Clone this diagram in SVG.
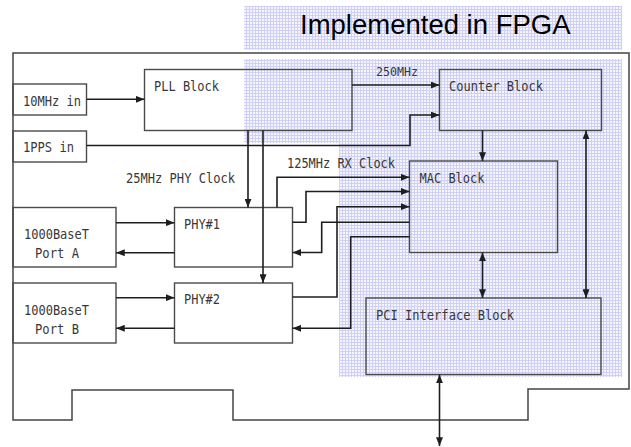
<svg xmlns="http://www.w3.org/2000/svg" width="631" height="447" viewBox="0 0 631 447">
<style>
.box{fill:none;stroke:#4a4a4a;stroke-width:1.4}
.board{fill:none;stroke:#444;stroke-width:1.5}
.ln{fill:none;stroke:#1e1e1e;stroke-width:1.6}
.t{font-family:"DejaVu Sans Mono","Liberation Mono",monospace;font-size:13.5px;fill:#383838}
.s{font-family:"DejaVu Sans Mono","Liberation Mono",monospace;font-size:11.5px;fill:#383838}
.title{font-family:"Liberation Sans",Arial,sans-serif;font-size:27.5px;fill:#000}
</style>
<defs>
<pattern id="grid" patternUnits="userSpaceOnUse" width="3" height="3">
<rect width="3" height="3" fill="#f5f5fe"/>
<rect width="1" height="3" fill="#d0d0f6"/>
<rect width="3" height="1" fill="#d0d0f6"/>
</pattern>
<marker id="ah" viewBox="0 0 10 8" refX="10" refY="4" markerWidth="9" markerHeight="7" markerUnits="userSpaceOnUse" orient="auto-start-reverse">
<path d="M0,0 L10,4 L0,8 z" fill="#1e1e1e"/>
</marker>
</defs>
<rect width="631" height="447" fill="#fff"/>
<g id="fpga-area">
<rect x="244" y="6" width="378" height="44" fill="url(#grid)"/>
<polygon points="244,59 622,59 622,377 339,377 339,143 244,143" fill="url(#grid)"/>
<text class="title" x="300" y="34">Implemented in FPGA</text>
</g>
<g id="board">
<path class="board" d="M13,53 H629 V389 H528 V420 H233 V390 H72 V420 H13 Z"/>
</g>
<g id="in10">
<rect class="box" x="13" y="84" width="73.5" height="31" fill="#fff"/>
<text class="t" x="23" y="106" textLength="58" lengthAdjust="spacingAndGlyphs">10MHz in</text>
</g>
<g id="in1pps">
<rect class="box" x="13" y="131" width="73.5" height="31" fill="#fff"/>
<text class="t" x="23" y="151.5" textLength="51" lengthAdjust="spacingAndGlyphs">1PPS in</text>
</g>
<g id="pll">
<rect class="box" x="144.5" y="69.5" width="207.5" height="61"/>
<text class="t" x="154" y="91" textLength="65" lengthAdjust="spacingAndGlyphs">PLL Block</text>
</g>
<g id="counter">
<rect class="box" x="439.5" y="69.5" width="162" height="61"/>
<text class="t" x="449" y="91" textLength="94" lengthAdjust="spacingAndGlyphs">Counter Block</text>
</g>
<g id="mac">
<rect class="box" x="409.5" y="161" width="148" height="91.5"/>
<text class="t" x="419.5" y="183" textLength="65" lengthAdjust="spacingAndGlyphs">MAC Block</text>
</g>
<g id="pci">
<rect class="box" x="366" y="298" width="235" height="76.5"/>
<text class="t" x="376" y="320" textLength="138" lengthAdjust="spacingAndGlyphs">PCI Interface Block</text>
</g>
<g id="porta">
<rect class="box" x="13" y="207.5" width="103" height="59.5" fill="#fff"/>
<text class="t" x="24" y="239" textLength="65" lengthAdjust="spacingAndGlyphs">1000BaseT</text>
<text class="t" x="35" y="257.5" textLength="44" lengthAdjust="spacingAndGlyphs">Port A</text>
</g>
<g id="portb">
<rect class="box" x="13" y="283" width="103" height="60" fill="#fff"/>
<text class="t" x="24" y="315" textLength="65" lengthAdjust="spacingAndGlyphs">1000BaseT</text>
<text class="t" x="35" y="334" textLength="44" lengthAdjust="spacingAndGlyphs">Port B</text>
</g>
<g id="phy1">
<rect class="box" x="174.5" y="207.5" width="118" height="59.5"/>
<text class="t" x="184" y="229" textLength="36" lengthAdjust="spacingAndGlyphs">PHY#1</text>
</g>
<g id="phy2">
<rect class="box" x="174.5" y="283" width="118" height="60"/>
<text class="t" x="184" y="304" textLength="36" lengthAdjust="spacingAndGlyphs">PHY#2</text>
</g>
<g id="connectors">
<path class="ln" d="M86.5,99.3 H144.5" marker-end="url(#ah)"/>
<path class="ln" d="M352,85 H439.5" marker-end="url(#ah)"/>
<path class="ln" d="M86.5,145.5 H410 V115 H439.5" marker-end="url(#ah)"/>
<path class="ln" d="M248,130.5 V207.5" marker-end="url(#ah)"/>
<path class="ln" d="M263,130.5 V283" marker-end="url(#ah)"/>
<path class="ln" d="M482.5,130.5 V161" marker-end="url(#ah)"/>
<path class="ln" d="M586,130.5 V298" marker-start="url(#ah)" marker-end="url(#ah)"/>
<path class="ln" d="M482.5,252.5 V298" marker-start="url(#ah)" marker-end="url(#ah)"/>
<path class="ln" d="M439.5,374.5 V446" marker-start="url(#ah)" marker-end="url(#ah)"/>
<path class="ln" d="M116,222.7 H174.5" marker-end="url(#ah)"/>
<path class="ln" d="M174.5,252.7 H116" marker-end="url(#ah)"/>
<path class="ln" d="M116,297.7 H174.5" marker-end="url(#ah)"/>
<path class="ln" d="M174.5,328.3 H116" marker-end="url(#ah)"/>
<path class="ln" d="M277,207.5 V177.3 H409.5" marker-end="url(#ah)"/>
<path class="ln" d="M292.5,222.3 H306 V191.5 H409.5" marker-end="url(#ah)"/>
<path class="ln" d="M292.5,297 H337 V206.7 H409.5" marker-end="url(#ah)"/>
<path class="ln" d="M409.5,222.3 H321.7 V252.5 H292.5" marker-end="url(#ah)"/>
<path class="ln" d="M409.5,236.7 H350.7 V328.3 H292.5" marker-end="url(#ah)"/>
<text class="s" x="376" y="76" textLength="42" lengthAdjust="spacingAndGlyphs">250MHz</text>
<text class="t" x="126" y="183" textLength="109" lengthAdjust="spacingAndGlyphs">25MHz PHY Clock</text>
<text class="t" x="287" y="167.7" textLength="108" lengthAdjust="spacingAndGlyphs">125MHz RX Clock</text>
</g>
</svg>
